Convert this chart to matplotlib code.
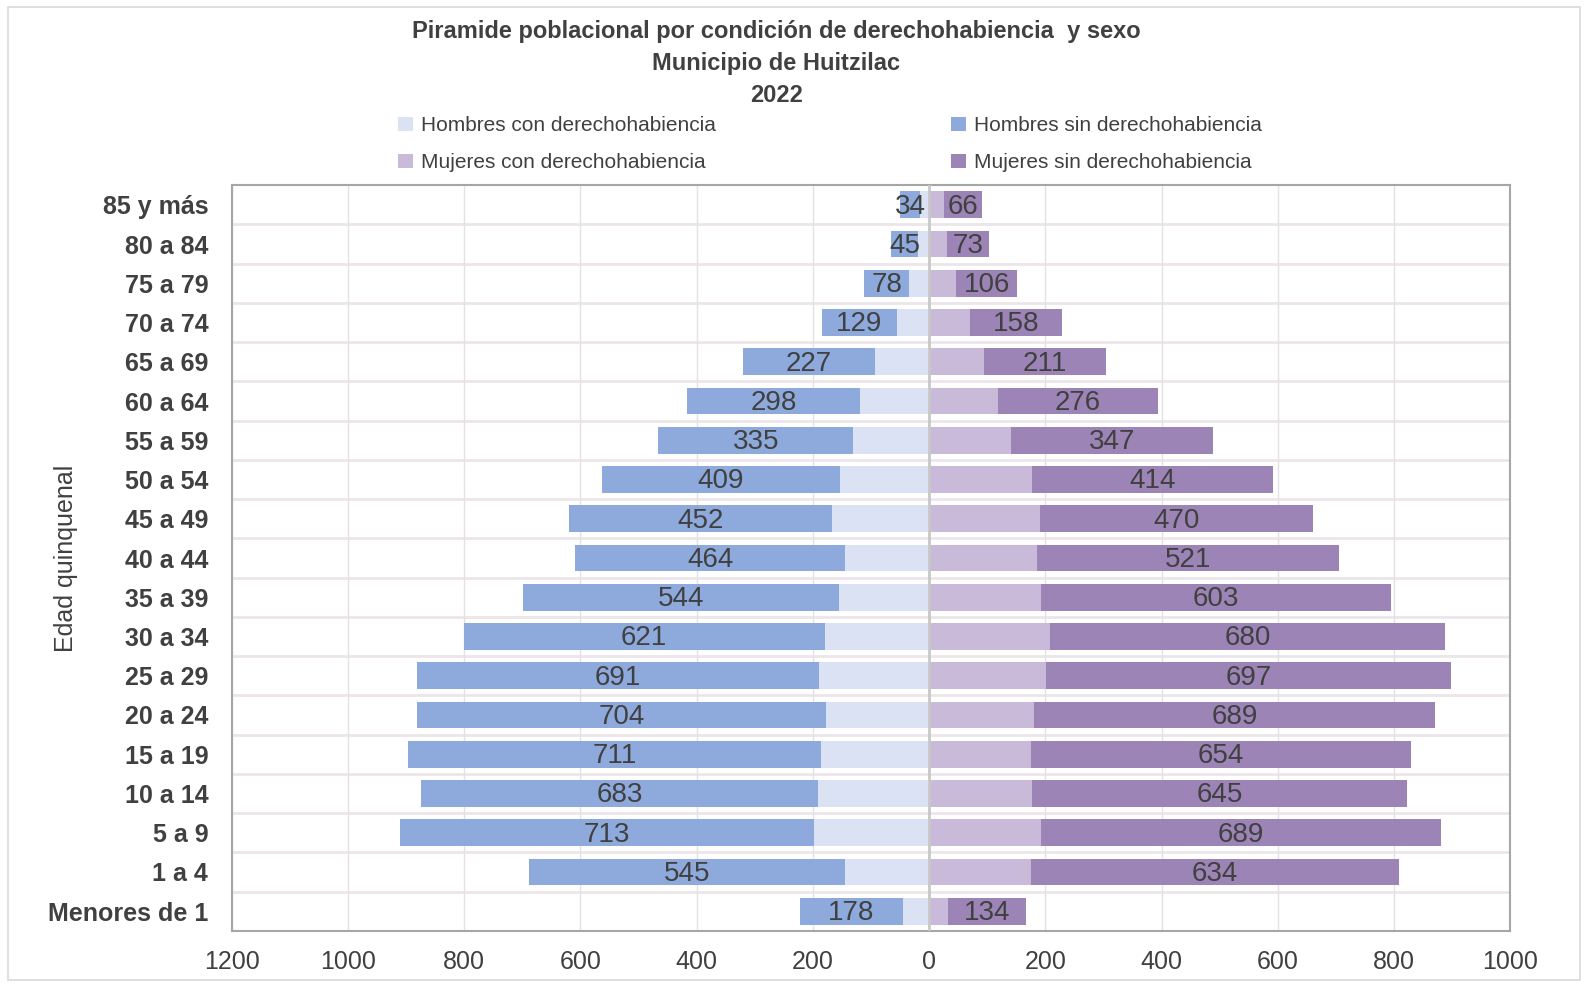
import matplotlib.pyplot as plt
import matplotlib.patches as mpatches
from matplotlib import font_manager

edades = ['Menores de 1', '1 a 4', '5 a 9', '10 a 14', '15 a 19', '20 a 24', '25 a 29',
          '30 a 34', '35 a 39', '40 a 44', '45 a 49', '50 a 54', '55 a 59', '60 a 64',
          '65 a 69', '70 a 74', '75 a 79', '80 a 84', '85 y más']

hombres_con = [45, 144, 198, 191, 186, 177, 190, 180, 155, 145, 167, 154, 131, 119, 94, 56, 34, 20, 16]
hombres_sin = [178, 545, 713, 683, 711, 704, 691, 621, 544, 464, 452, 409, 335, 298, 227, 129, 78, 45, 34]
mujeres_con = [33, 175, 192, 177, 175, 181, 201, 208, 192, 185, 191, 177, 141, 118, 94, 70, 46, 30, 25]
mujeres_sin = [134, 634, 689, 645, 654, 689, 697, 680, 603, 521, 470, 414, 347, 276, 211, 158, 106, 73, 66]

# narrow font if available
names = {f.name for f in font_manager.fontManager.ttflist}
fuente = 'Liberation Sans Narrow' if 'Liberation Sans Narrow' in names else 'Liberation Sans'
plt.rcParams['font.family'] = [fuente, 'DejaVu Sans']

c_hcon = '#dae2f3'
c_hsin = '#8eaadc'
c_mcon = '#cabad9'
c_msin = '#9c84b6'
texto = '#404040'

fig = plt.figure(figsize=(15.88, 9.85), dpi=100)
ax = fig.add_axes([0.146, 0.055, 0.805, 0.757])

y = range(len(edades))
h = 0.68
neg_hcon = [-v for v in hombres_con]
neg_hsin = [-v for v in hombres_sin]
ax.barh(y, neg_hcon, height=h, color=c_hcon, label='Hombres con derechohabiencia', zorder=3)
ax.barh(y, neg_hsin, left=neg_hcon, height=h, color=c_hsin,
        label='Hombres sin derechohabiencia', zorder=3)
ax.barh(y, mujeres_con, height=h, color=c_mcon, label='Mujeres con derechohabiencia', zorder=3)
ax.barh(y, mujeres_sin, left=mujeres_con, height=h, color=c_msin,
        label='Mujeres sin derechohabiencia', zorder=3)

for i in y:
    ax.text(-hombres_con[i] - hombres_sin[i] / 2, i - 0.05, str(hombres_sin[i]), ha='center',
            va='center', fontsize=20, color=texto, zorder=4)
    ax.text(mujeres_con[i] + mujeres_sin[i] / 2, i - 0.05, str(mujeres_sin[i]), ha='center',
            va='center', fontsize=20, color=texto, zorder=4)

ax.set_xlim(-1200, 1000)
ax.set_ylim(-0.5, len(edades) - 0.5)
ticks = list(range(-1200, 1001, 200))
ax.set_xticks(ticks)
ax.set_xticklabels([str(abs(t)) for t in ticks], fontsize=18, color=texto)
ax.set_yticks(list(y))
ax.set_yticklabels(edades, fontsize=18, fontweight='bold', color=texto)
ax.tick_params(length=0, pad=14)
ax.tick_params(axis='y', pad=17)

ax.grid(axis='x', color='#e2e2e2', linewidth=1, zorder=0)
for k in range(1, len(edades)):
    ax.axhline(k - 0.5, color='#ece6ea', linewidth=2, zorder=1)
ax.axvline(0, color='#c8c8c8', linewidth=2, zorder=5)
for s in ax.spines.values():
    s.set_color('#a6a6a6')
    s.set_linewidth(1.5)

ax.set_ylabel('Edad quinquenal', fontsize=18, color=texto)
ax.yaxis.set_label_coords(-0.12, 0.5)

fig.text(0.489, 0.968, 'Piramide poblacional por condición de derechohabiencia  y sexo',
         ha='center', va='center', fontsize=17, fontweight='bold', color=texto)
fig.text(0.489, 0.936, 'Municipio de Huitzilac', ha='center', va='center',
         fontsize=17, fontweight='bold', color=texto)
fig.text(0.489, 0.903, '2022', ha='center', va='center', fontsize=17, fontweight='bold', color=texto)

handles, labels = ax.get_legend_handles_labels()
orden = [0, 2, 1, 3]
leg = fig.legend([handles[i] for i in orden], [labels[i] for i in orden], ncol=2,
                 loc='upper left', bbox_to_anchor=(0.248, 0.886), frameon=False, fontsize=15,
                 handlelength=0.7, handleheight=0.7, handletextpad=0.4,
                 columnspacing=11.3, labelspacing=0.85, borderaxespad=0, borderpad=0.2)
for t in leg.get_texts():
    t.set_color(texto)

fig.patches.append(mpatches.Rectangle((0.005, 0.005), 0.99, 0.988, transform=fig.transFigure,
                                      fill=False, edgecolor='#d9d9d9', linewidth=1.2))

fig.savefig('out.png', dpi=100)
